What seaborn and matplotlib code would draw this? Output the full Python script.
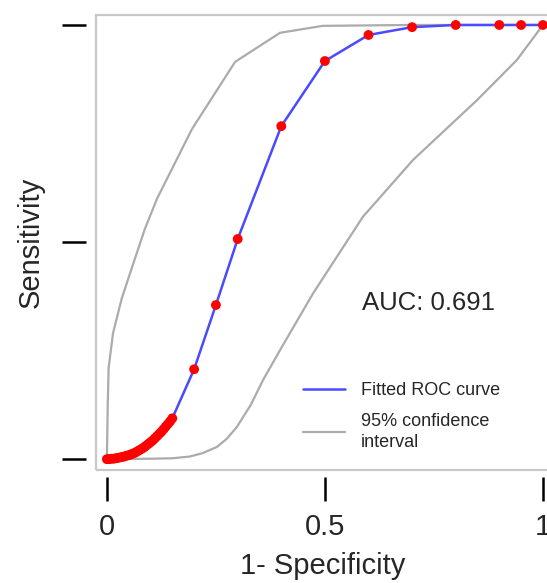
import matplotlib
matplotlib.use("Agg")
import matplotlib.pyplot as plt
import seaborn as sns
import pandas as pd
from matplotlib.lines import Line2D
from matplotlib.patches import Rectangle

# fitted ROC points (1 - specificity, sensitivity)
roc_fpr = [0, 0.005, 0.01, 0.015, 0.02, 0.025, 0.03, 0.035, 0.04, 0.045, 0.05,
           0.055, 0.06, 0.065, 0.07, 0.075, 0.08, 0.085, 0.09, 0.095, 0.10,
           0.105, 0.11, 0.115, 0.12, 0.125, 0.13, 0.135, 0.14, 0.145, 0.15,
           0.20, 0.25, 0.30, 0.40, 0.50, 0.60, 0.70, 0.80, 0.90, 0.95, 1.00]
roc_tpr = [0, 0, 0.001, 0.001, 0.002, 0.003, 0.004, 0.005, 0.006, 0.008, 0.009,
           0.011, 0.013, 0.015, 0.018, 0.021, 0.024, 0.027, 0.031, 0.035, 0.039,
           0.043, 0.048, 0.053, 0.058, 0.063, 0.069, 0.075, 0.081, 0.087, 0.094,
           0.207, 0.355, 0.507, 0.767, 0.917, 0.977, 0.995, 1.0, 1.0, 1.0, 1.0]

# 95% CI bands
ci_hi_x = [0, 0.002, 0.004, 0.014, 0.034, 0.057, 0.087, 0.115, 0.13, 0.195,
           0.294, 0.397, 0.495, 0.695, 1.0]
ci_hi_y = [0, 0.13, 0.21, 0.29, 0.37, 0.44, 0.53, 0.60, 0.63, 0.76,
           0.915, 0.982, 0.998, 1.0, 1.0]
ci_lo_x = [0, 0.10, 0.15, 0.19, 0.22, 0.252, 0.275, 0.298, 0.33, 0.358, 0.397,
           0.473, 0.587, 0.702, 0.849, 0.94, 1.0]
ci_lo_y = [0, 0.001, 0.002, 0.006, 0.014, 0.028, 0.047, 0.074, 0.125, 0.182, 0.251,
           0.382, 0.558, 0.689, 0.827, 0.919, 1.0]

auc_text = "AUC: 0.691"
x_ticks = [0, 0.5, 1]
x_ticklabels = ["0", "0.5", "1"]
y_ticks = [0, 0.5, 1]

roc = pd.DataFrame({"fpr": roc_fpr, "tpr": roc_tpr})
hi = pd.DataFrame({"x": ci_hi_x, "y": ci_hi_y})
lo = pd.DataFrame({"x": ci_lo_x, "y": ci_lo_y})

sns.set_style("white")
plt.rcParams["font.family"] = ["Liberation Sans", "DejaVu Sans"]

fig = plt.figure(figsize=(5.47, 5.83), dpi=100)
ax = fig.add_axes([96 / 547, 1 - 470 / 583, 453 / 547, 455 / 583])

gray = "#ababab"
blue = "#4a4aff"
sns.lineplot(data=hi, x="x", y="y", sort=False, color=gray, lw=1.6, ax=ax)
sns.lineplot(data=lo, x="x", y="y", sort=False, color=gray, lw=1.6, ax=ax)
sns.lineplot(data=roc, x="fpr", y="tpr", sort=False, color=blue, lw=1.8, ax=ax)
sns.scatterplot(data=roc, x="fpr", y="tpr", color="#ff0000", s=50,
                edgecolor="none", ax=ax, zorder=5, clip_on=False)

ax.set_xlim(-0.025, 1.014)
ax.set_ylim(-0.025, 1.023)

# light gray frame, ticks pushed out away from it
ax.spines["bottom"].set_position(("outward", 5))
ax.spines["left"].set_position(("outward", 7))
for sp in ax.spines.values():
    sp.set_visible(False)
ax.add_patch(Rectangle((0, 0), 1, 1, transform=ax.transAxes, fill=False,
                       edgecolor="#c8c8c8", lw=1.6, clip_on=False, zorder=0))

ax.set_xticks(x_ticks)
ax.set_xticklabels(x_ticklabels)
ax.set_yticks(y_ticks)
ax.set_yticklabels([])
ax.tick_params(axis="both", direction="out", length=17, width=1.8,
               color="black", labelsize=21, pad=9)
ax.tick_params(axis="y", left=True)
ax.tick_params(axis="x", bottom=True)

ax.set_xlabel("1- Specificity", fontsize=21, labelpad=8)
ax.set_ylabel("Sensitivity", fontsize=21, labelpad=4)

ax.text(0.585, 0.36, auc_text, fontsize=18.5, va="center", ha="left")

handles = [Line2D([], [], color=blue, lw=1.8),
           Line2D([], [], color=gray, lw=1.6)]
leg = ax.legend(handles, ["Fitted ROC curve", "95% confidence\ninterval"],
                loc="upper left", bbox_to_anchor=(0.457, 0.193), frameon=False,
                fontsize=13, handlelength=2.3, handletextpad=0.9,
                labelspacing=0.75, borderpad=0, borderaxespad=0)
for t in leg.get_texts():
    t.set_linespacing(1.35)

plt.savefig("out.png", dpi=100)
plt.close()
